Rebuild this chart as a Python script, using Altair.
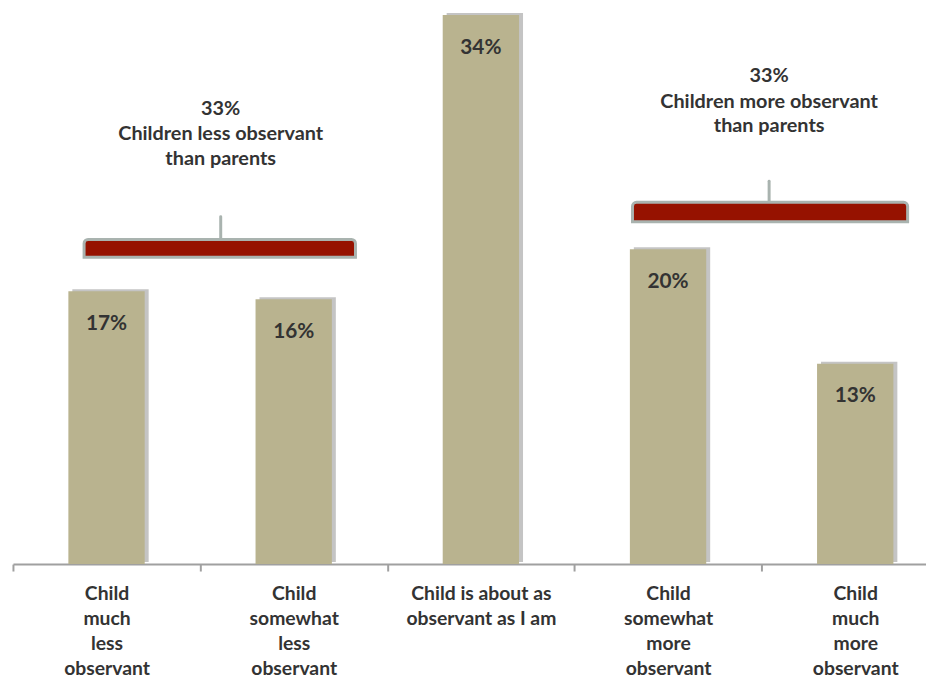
import altair as alt
import pandas as pd

# ---- data ----
categories = [
    "Child|much|less|observant",
    "Child|somewhat|less|observant",
    "Child is about as|observant as I am",
    "Child|somewhat|more|observant",
    "Child|much|more|observant",
]
values = [16.9, 16.4, 34.0, 19.5, 12.4]
value_labels = ["17%", "16%", "34%", "20%", "13%"]

# brackets (x in category-band units 0..5, y in percent units)
bracket_start = [0.38, 3.31]
bracket_end = [1.83, 4.78]
bracket_mid = [1.11, 4.04]
bracket_low = [19.0, 21.2]
bracket_high = [20.1, 22.4]
bracket_spike = [21.5, 23.7]

note_lines = ["33%", "Children less observant", "than parents",
              "33%", "Children more observant", "than parents"]
note_x = [1.11, 1.11, 1.11, 4.04, 4.04, 4.04]
note_y = [28.2, 26.6, 25.1, 30.2, 28.6, 27.1]

bars_df = pd.DataFrame({"cat": categories, "val": values, "lab": value_labels})
br_df = pd.DataFrame({"x0": bracket_start, "x1": bracket_end, "xm": bracket_mid,
                      "y0": bracket_low, "y1": bracket_high, "ys": bracket_spike})
note_df = pd.DataFrame({"t": note_lines, "x": note_x, "y": note_y})

W = 921
H = 558
RANGE = [0, 944]
FONT = "Lato"
TXT = "#333333"

ydom = alt.Scale(domain=[0, 34.25], nice=False, zero=True)
xband = alt.Scale(domain=categories, range=RANGE, paddingInner=0, paddingOuter=0)
xq = alt.Scale(domain=[0, 5], range=RANGE, nice=False, zero=False)

x_axis = alt.Axis(
    title=None, labelAngle=0, labelExpr="split(datum.label, '|')",
    labelFont=FONT, labelFontSize=19.5, labelFontWeight="bold", labelColor=TXT,
    labelLineHeight=25, labelPadding=14, tickBand="extent", tickSize=7,
    tickColor="#a0a0a0", tickWidth=2, domainColor="#a0a0a0", domainWidth=2,
    grid=False, labelBaseline="top",
)

shadow = alt.Chart(bars_df).mark_bar(size=77, color="#555555", opacity=0.35,
                                     xOffset=4, yOffset=-2).encode(
    x=alt.X("cat:N", scale=xband, sort=None, axis=x_axis),
    y=alt.Y("val:Q", scale=ydom, axis=None),
)

bars = alt.Chart(bars_df).mark_bar(size=77, color="#b9b38f").encode(
    x=alt.X("cat:N", scale=xband, sort=None, axis=x_axis),
    y=alt.Y("val:Q", scale=ydom, axis=None),
)

vals = alt.Chart(bars_df).mark_text(baseline="top", dy=22, font=FONT, fontSize=21,
                                    fontWeight="bold", color=TXT).encode(
    x=alt.X("cat:N", scale=xband, sort=None, axis=x_axis),
    y=alt.Y("val:Q", scale=ydom, axis=None),
    text="lab:N",
)

base_layer = alt.layer(shadow, bars, vals)

spike = alt.Chart(br_df).mark_rule(color="#a9b3af", strokeWidth=3, strokeCap="round").encode(
    x=alt.X("xm:Q", scale=xq, axis=None),
    y=alt.Y("y1:Q", scale=ydom, axis=None),
    y2="ys:Q",
)

brace = alt.Chart(br_df).mark_rect(fill="#961200", stroke="#a9b3af", strokeWidth=3,
                                    cornerRadiusTopLeft=4, cornerRadiusTopRight=4).encode(
    x=alt.X("x0:Q", scale=xq, axis=None),
    x2="x1:Q",
    y=alt.Y("y0:Q", scale=ydom, axis=None),
    y2="y1:Q",
)

notes = alt.Chart(note_df).mark_text(font=FONT, fontSize=20, fontWeight="bold",
                                     color=TXT, baseline="middle").encode(
    x=alt.X("x:Q", scale=xq, axis=None),
    y=alt.Y("y:Q", scale=ydom, axis=None),
    text="t:N",
)

ann_layer = alt.layer(spike, brace, notes)

chart = alt.layer(base_layer, ann_layer).resolve_scale(x="independent").properties(
    width=W, height=H,
    padding={"left": 5, "top": 0, "right": 0, "bottom": 115},
    autosize=alt.AutoSizeParams(type="none"),
).configure_view(stroke=None)

chart.save("out.html", embed_options={"renderer": "svg", "actions": False})
